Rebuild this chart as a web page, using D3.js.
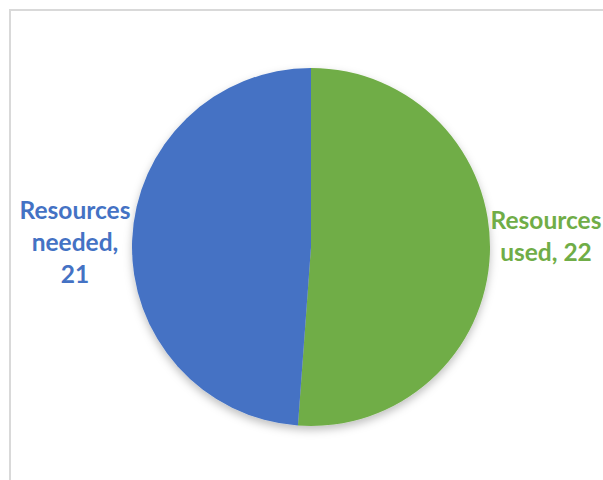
<!DOCTYPE html>
<html>
<head>
<meta charset="utf-8">
<script src="https://cdn.jsdelivr.net/npm/d3@7"></script>
<style>
  body { margin: 0; background: #fff; }
  svg { display: block; }
</style>
</head>
<body>
<div id="chart"></div>
<script>
// Chart data
var categories = ['Resources used', 'Resources needed'];
var values = [22, 21];
var colors = ['#70AD47', '#4472C4'];

var width = 603, height = 480;
var cx = 311, cy = 247, radius = 179;

var svg = d3.select('#chart').append('svg')
    .attr('width', width)
    .attr('height', height);

// soft shadow under the pie
var defs = svg.append('defs');
var filter = defs.append('filter')
    .attr('id', 'shadow')
    .attr('x', '-20%').attr('y', '-20%')
    .attr('width', '140%').attr('height', '140%');
filter.append('feDropShadow')
    .attr('dx', 0).attr('dy', 4)
    .attr('stdDeviation', 4)
    .attr('flood-color', '#000')
    .attr('flood-opacity', 0.25);

// chart area frame
svg.append('rect')
    .attr('x', 10).attr('y', 10)
    .attr('width', 620).attr('height', 500)
    .attr('fill', 'none')
    .attr('stroke', '#d9d9d9')
    .attr('stroke-width', 2);

var pie = d3.pie().sort(null).value(d => d.value);
var arc = d3.arc().innerRadius(0).outerRadius(radius);

var data = categories.map((c, i) => ({ name: c, value: values[i], color: colors[i] }));

var g = svg.append('g')
    .attr('transform', 'translate(' + cx + ',' + cy + ')');

g.append('g')
    .attr('filter', 'url(#shadow)')
    .selectAll('path')
    .data(pie(data))
    .enter()
    .append('path')
    .attr('d', arc)
    .attr('fill', d => d.data.color);

// labels outside the pie
var labels = [
  { lines: ['Resources', 'used, 22'], x: 546, y: 229, color: colors[0] },
  { lines: ['Resources', 'needed,', '21'], x: 75, y: 219, color: colors[1] }
];

labels.forEach(function(l) {
  var t = svg.append('text')
      .attr('x', l.x)
      .attr('y', l.y)
      .attr('text-anchor', 'middle')
      .attr('font-family', 'Lato, "Liberation Sans", sans-serif')
      .attr('font-weight', 'bold')
      .attr('font-size', 24.5)
      .attr('fill', l.color);
  l.lines.forEach(function(line, i) {
    t.append('tspan')
        .attr('x', l.x)
        .attr('dy', i === 0 ? 0 : 32)
        .text(line);
  });
});
</script>
</body>
</html>
